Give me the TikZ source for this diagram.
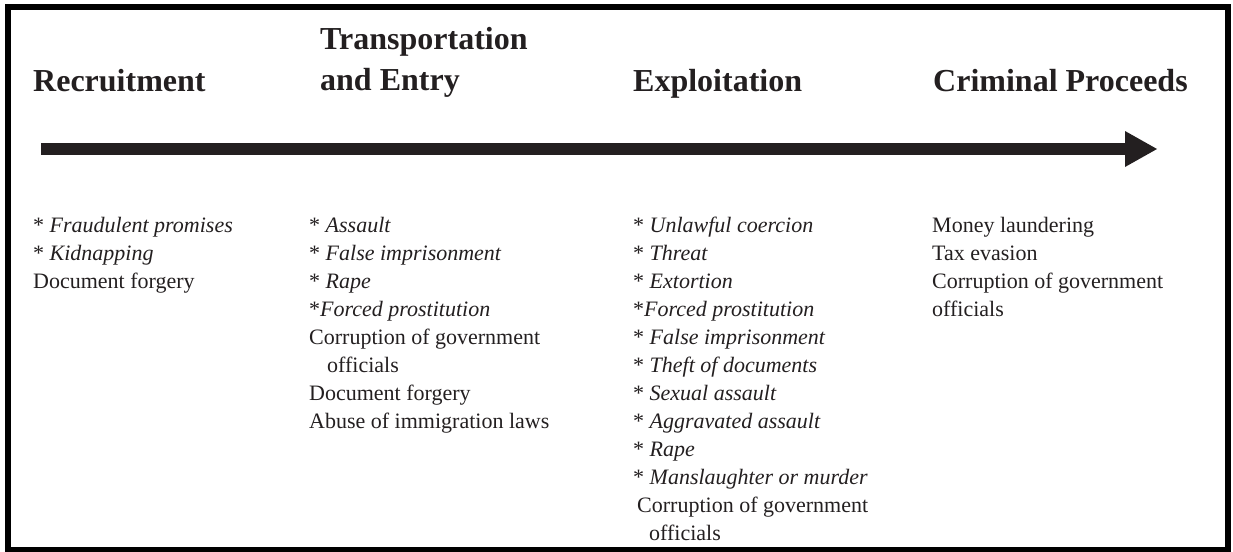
\documentclass[tikz,border=0pt]{standalone}
\usepackage{fontspec}
\setmainfont{Liberation Serif}
\usetikzlibrary{arrows.meta}
\definecolor{ink}{RGB}{35,31,32}

\begin{document}
\begin{tikzpicture}[x=1pt,y=1pt]
        % Styles
        \tikzstyle{stage}=[anchor=base west,inner sep=0pt,text=ink,font=\fontsize{32}{39}\selectfont\bfseries]
        \tikzstyle{item list}=[anchor=north west,inner sep=0pt,align=left,text=ink,font=\fontsize{22}{28}\selectfont]
        \tikzstyle{timeline}=[line width=12pt,draw=ink,-{Triangle[length=32pt,width=36pt,line width=0pt]}]
        %frame
        \useasboundingbox (0,0) rectangle (1233,-551);
        \draw[line width=6pt] (8,-7.5) rectangle (1228,-550);
        %stage titles
        \node[stage] (recruit) at (33,-91) {Recruitment};
        \node[stage] (transport) at (320,-50) {Transportation};
        \node[stage] (entry) at (320,-90) {and Entry};
        \node[stage] (exploit) at (633,-91) {Exploitation};
        \node[stage] (proceeds) at (933,-91) {Criminal Proceeds};
        %the arrow
        \coordinate (start) at (41,-149);
        \coordinate (end) at (1157,-149);
        \draw[timeline] (start) -- (end);
        %crimes at each stage
        \node[item list] (recruit list) at (33,-217) {%
            * \textit{Fraudulent promises}\\
            * \textit{Kidnapping}\\
            Document forgery};
        \node[item list] (transport list) at (309,-217) {%
            * \textit{Assault}\\
            * \textit{False imprisonment}\\
            * \textit{Rape}\\
            *\textit{Forced prostitution}\\
            Corruption of government\\
            \hspace*{18pt}officials\\
            Document forgery\\
            Abuse of immigration laws};
        \node[item list] (exploit list) at (633,-217) {%
            * \textit{Unlawful coercion}\\
            * \textit{Threat}\\
            * \textit{Extortion}\\
            *\textit{Forced prostitution}\\
            * \textit{False imprisonment}\\
            * \textit{Theft of documents}\\
            * \textit{Sexual assault}\\
            * \textit{Aggravated assault}\\
            * \textit{Rape}\\
            * \textit{Manslaughter or murder}\\
            \hspace*{4pt}Corruption of government\\
            \hspace*{16pt}officials};
        \node[item list] (proceeds list) at (932,-217) {%
            Money laundering\\
            Tax evasion\\
            Corruption of government\\
            officials};
\end{tikzpicture}
\end{document}
